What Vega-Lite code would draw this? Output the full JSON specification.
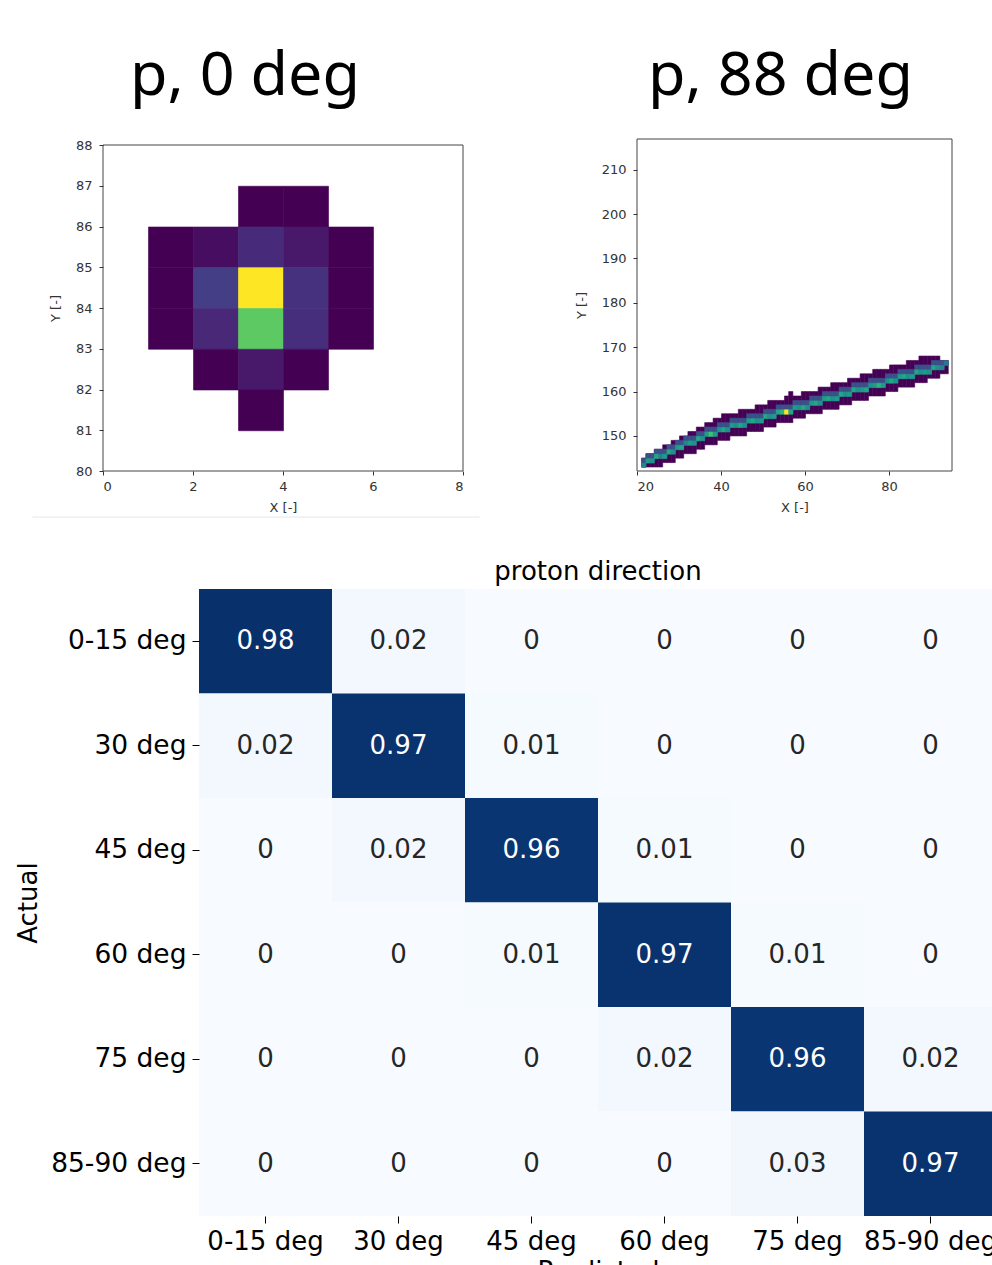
{
  "$schema": "https://vega.github.io/schema/vega-lite/v6.json",
  "background": "white",
  "padding": {"left": 15, "top": 45, "right": 0, "bottom": 0},
  "config": {
    "view": {"stroke": null},
    "font": "DejaVu Sans",
    "axis": {"grid": false, "domain": false, "labelFont": "DejaVu Sans", "titleFont": "DejaVu Sans", "titleFontWeight": "normal"}
  },
  "datasets": {
    "cells": [
      {"x":3,"y":86,"v":0},{"x":4,"y":86,"v":0},
      {"x":1,"y":85,"v":0},{"x":2,"y":85,"v":0.03},{"x":3,"y":85,"v":0.12},{"x":4,"y":85,"v":0.06},{"x":5,"y":85,"v":0},
      {"x":1,"y":84,"v":0},{"x":2,"y":84,"v":0.18},{"x":3,"y":84,"v":1.0},{"x":4,"y":84,"v":0.14},{"x":5,"y":84,"v":0},
      {"x":1,"y":83,"v":0},{"x":2,"y":83,"v":0.11},{"x":3,"y":83,"v":0.75},{"x":4,"y":83,"v":0.13},{"x":5,"y":83,"v":0},
      {"x":2,"y":82,"v":0},{"x":3,"y":82,"v":0.06},{"x":4,"y":82,"v":0},
      {"x":3,"y":81,"v":0}
    ],
    "track": [
      {"x":21,"lo":143,"hi":145,"a":143,"b":145,"c":143,"v":0.45},
      {"x":22,"lo":143,"hi":146,"a":143,"b":146,"c":144,"v":0.55},
      {"x":23,"lo":143,"hi":146,"a":143,"b":146,"c":144,"v":0.5},
      {"x":24,"lo":143,"hi":147,"a":144,"b":147,"c":145,"v":0.6},
      {"x":25,"lo":143,"hi":147,"a":144,"b":147,"c":145,"v":0.45},
      {"x":26,"lo":144,"hi":148,"a":144,"b":147,"c":145,"v":0.55},
      {"x":27,"lo":144,"hi":148,"a":145,"b":148,"c":146,"v":0.6},
      {"x":28,"lo":144,"hi":149,"a":145,"b":148,"c":146,"v":0.5},
      {"x":29,"lo":145,"hi":149,"a":146,"b":149,"c":147,"v":0.55},
      {"x":30,"lo":145,"hi":150,"a":146,"b":149,"c":147,"v":0.6},
      {"x":31,"lo":146,"hi":150,"a":147,"b":150,"c":148,"v":0.45},
      {"x":32,"lo":146,"hi":151,"a":147,"b":150,"c":148,"v":0.55},
      {"x":33,"lo":146,"hi":151,"a":147,"b":150,"c":148,"v":0.5},
      {"x":34,"lo":147,"hi":152,"a":148,"b":151,"c":149,"v":0.6},
      {"x":35,"lo":147,"hi":152,"a":148,"b":151,"c":149,"v":0.5},
      {"x":36,"lo":148,"hi":153,"a":149,"b":152,"c":150,"v":0.55},
      {"x":37,"lo":148,"hi":153,"a":149,"b":152,"c":150,"v":0.7},
      {"x":38,"lo":148,"hi":154,"a":149,"b":152,"c":150,"v":0.55},
      {"x":39,"lo":149,"hi":154,"a":150,"b":153,"c":151,"v":0.5},
      {"x":40,"lo":149,"hi":155,"a":150,"b":153,"c":151,"v":0.6},
      {"x":41,"lo":149,"hi":155,"a":150,"b":153,"c":151,"v":0.5},
      {"x":42,"lo":150,"hi":155,"a":151,"b":154,"c":152,"v":0.55},
      {"x":43,"lo":150,"hi":155,"a":151,"b":154,"c":152,"v":0.5},
      {"x":44,"lo":150,"hi":156,"a":151,"b":154,"c":152,"v":0.6},
      {"x":45,"lo":150,"hi":156,"a":151,"b":154,"c":152,"v":0.5},
      {"x":46,"lo":151,"hi":156,"a":152,"b":155,"c":153,"v":0.55},
      {"x":47,"lo":151,"hi":156,"a":152,"b":155,"c":153,"v":0.6},
      {"x":48,"lo":151,"hi":157,"a":152,"b":155,"c":153,"v":0.5},
      {"x":49,"lo":151,"hi":157,"a":152,"b":155,"c":153,"v":0.55},
      {"x":50,"lo":152,"hi":157,"a":153,"b":156,"c":154,"v":0.6},
      {"x":51,"lo":152,"hi":158,"a":153,"b":156,"c":154,"v":0.5},
      {"x":52,"lo":152,"hi":158,"a":153,"b":156,"c":154,"v":0.55},
      {"x":53,"lo":153,"hi":158,"a":154,"b":157,"c":155,"v":0.6},
      {"x":54,"lo":153,"hi":158,"a":154,"b":157,"c":155,"v":0.65},
      {"x":55,"lo":153,"hi":159,"a":154,"b":157,"c":155,"v":1.0},
      {"x":56,"lo":153,"hi":160,"a":154,"b":157,"c":155,"v":0.6},
      {"x":57,"lo":154,"hi":159,"a":155,"b":158,"c":156,"v":0.55},
      {"x":58,"lo":154,"hi":159,"a":155,"b":158,"c":156,"v":0.5},
      {"x":59,"lo":154,"hi":160,"a":155,"b":158,"c":156,"v":0.6},
      {"x":60,"lo":155,"hi":160,"a":155,"b":158,"c":156,"v":0.5},
      {"x":61,"lo":155,"hi":160,"a":156,"b":159,"c":157,"v":0.55},
      {"x":62,"lo":155,"hi":160,"a":156,"b":159,"c":157,"v":0.6},
      {"x":63,"lo":155,"hi":161,"a":156,"b":159,"c":157,"v":0.5},
      {"x":64,"lo":156,"hi":161,"a":157,"b":160,"c":158,"v":0.55},
      {"x":65,"lo":156,"hi":161,"a":157,"b":160,"c":158,"v":0.6},
      {"x":66,"lo":156,"hi":162,"a":157,"b":160,"c":158,"v":0.5},
      {"x":67,"lo":156,"hi":162,"a":157,"b":160,"c":158,"v":0.55},
      {"x":68,"lo":157,"hi":162,"a":158,"b":161,"c":159,"v":0.6},
      {"x":69,"lo":157,"hi":162,"a":158,"b":161,"c":159,"v":0.5},
      {"x":70,"lo":157,"hi":163,"a":158,"b":161,"c":159,"v":0.55},
      {"x":71,"lo":158,"hi":163,"a":159,"b":162,"c":160,"v":0.6},
      {"x":72,"lo":158,"hi":163,"a":159,"b":162,"c":160,"v":0.5},
      {"x":73,"lo":158,"hi":164,"a":159,"b":162,"c":160,"v":0.55},
      {"x":74,"lo":158,"hi":164,"a":159,"b":162,"c":160,"v":0.6},
      {"x":75,"lo":159,"hi":164,"a":160,"b":163,"c":161,"v":0.5},
      {"x":76,"lo":159,"hi":165,"a":160,"b":163,"c":161,"v":0.55},
      {"x":77,"lo":159,"hi":165,"a":160,"b":163,"c":161,"v":0.65},
      {"x":78,"lo":159,"hi":165,"a":160,"b":163,"c":161,"v":0.55},
      {"x":79,"lo":160,"hi":165,"a":161,"b":164,"c":162,"v":0.5},
      {"x":80,"lo":160,"hi":166,"a":161,"b":164,"c":162,"v":0.6},
      {"x":81,"lo":160,"hi":166,"a":161,"b":164,"c":162,"v":0.5},
      {"x":82,"lo":161,"hi":166,"a":162,"b":165,"c":163,"v":0.55},
      {"x":83,"lo":161,"hi":166,"a":162,"b":165,"c":163,"v":0.6},
      {"x":84,"lo":161,"hi":167,"a":162,"b":165,"c":163,"v":0.5},
      {"x":85,"lo":161,"hi":167,"a":162,"b":165,"c":163,"v":0.55},
      {"x":86,"lo":162,"hi":167,"a":163,"b":166,"c":164,"v":0.6},
      {"x":87,"lo":162,"hi":168,"a":163,"b":166,"c":164,"v":0.5},
      {"x":88,"lo":162,"hi":168,"a":163,"b":166,"c":164,"v":0.55},
      {"x":89,"lo":163,"hi":168,"a":163,"b":166,"c":164,"v":0.5},
      {"x":90,"lo":163,"hi":168,"a":164,"b":167,"c":165,"v":0.6},
      {"x":91,"lo":163,"hi":168,"a":164,"b":167,"c":165,"v":0.5},
      {"x":92,"lo":164,"hi":167,"a":164,"b":167,"c":165,"v":0.45},
      {"x":93,"lo":164,"hi":167,"a":165,"b":167,"c":166,"v":0.4}
    ],
    "matrix": [
      {"a":"0-15 deg","p":"0-15 deg","v":0.98},{"a":"0-15 deg","p":"30 deg","v":0.02},{"a":"0-15 deg","p":"45 deg","v":0},{"a":"0-15 deg","p":"60 deg","v":0},{"a":"0-15 deg","p":"75 deg","v":0},{"a":"0-15 deg","p":"85-90 deg","v":0},
      {"a":"30 deg","p":"0-15 deg","v":0.02},{"a":"30 deg","p":"30 deg","v":0.97},{"a":"30 deg","p":"45 deg","v":0.01},{"a":"30 deg","p":"60 deg","v":0},{"a":"30 deg","p":"75 deg","v":0},{"a":"30 deg","p":"85-90 deg","v":0},
      {"a":"45 deg","p":"0-15 deg","v":0},{"a":"45 deg","p":"30 deg","v":0.02},{"a":"45 deg","p":"45 deg","v":0.96},{"a":"45 deg","p":"60 deg","v":0.01},{"a":"45 deg","p":"75 deg","v":0},{"a":"45 deg","p":"85-90 deg","v":0},
      {"a":"60 deg","p":"0-15 deg","v":0},{"a":"60 deg","p":"30 deg","v":0},{"a":"60 deg","p":"45 deg","v":0.01},{"a":"60 deg","p":"60 deg","v":0.97},{"a":"60 deg","p":"75 deg","v":0.01},{"a":"60 deg","p":"85-90 deg","v":0},
      {"a":"75 deg","p":"0-15 deg","v":0},{"a":"75 deg","p":"30 deg","v":0},{"a":"75 deg","p":"45 deg","v":0},{"a":"75 deg","p":"60 deg","v":0.02},{"a":"75 deg","p":"75 deg","v":0.96},{"a":"75 deg","p":"85-90 deg","v":0.02},
      {"a":"85-90 deg","p":"0-15 deg","v":0},{"a":"85-90 deg","p":"30 deg","v":0},{"a":"85-90 deg","p":"45 deg","v":0},{"a":"85-90 deg","p":"60 deg","v":0},{"a":"85-90 deg","p":"75 deg","v":0.03},{"a":"85-90 deg","p":"85-90 deg","v":0.97}
    ]
  },
  "bounds": "flush",
  "spacing": 450,
  "resolve": {"scale": {"color": "independent"}},
  "vconcat": [
    {
      "bounds": "flush",
      "spacing": 174,
      "resolve": {"scale": {"color": "independent"}},
      "hconcat": [
        {
          "width": 360,
          "height": 332,
          "title": {"text": "p, 0 deg", "font": "Noto Sans", "fontSize": 61, "fontWeight": "normal", "color": "black", "anchor": "middle", "dx": -38, "offset": -17, "baseline": "alphabetic"},
          "layer": [
            {
              "data": {"name": "cells"},
              "mark": {"type": "rect", "binSpacing": 0, "strokeWidth": 0.6},
              "encoding": {
                "x": {"field": "x", "type": "quantitative", "bin": {"binned": true, "step": 1},
                      "scale": {"domain": [0, 8], "nice": false},
                      "axis": {"values": [0, 2, 4, 6, 8], "title": "X [-]", "labelFontSize": 13, "titleFontSize": 13, "labelColor": "#333", "titleColor": "#333", "tickColor": "#333", "tickSize": 4, "labelPadding": 5, "titlePadding": 8, "format": "d"}},
                "y": {"field": "y", "type": "quantitative", "bin": {"binned": true, "step": 1},
                      "scale": {"domain": [80, 88], "range": [332, 6], "nice": false},
                      "axis": {"values": [80, 81, 82, 83, 84, 85, 86, 87, 88], "title": "Y [-]", "labelFontSize": 13, "titleFontSize": 13, "labelColor": "#333", "titleColor": "#333", "tickColor": "#333", "tickSize": 4, "labelPadding": 7, "titlePadding": 13, "format": "d"}},
                "color": {"field": "v", "type": "quantitative", "scale": {"scheme": "viridis", "domain": [0, 1]}, "legend": null},
                "stroke": {"field": "v", "type": "quantitative", "scale": {"scheme": "viridis", "domain": [0, 1]}, "legend": null}
              }
            },
            {
              "data": {"values": [{}]},
              "mark": {"type": "rect", "fill": null, "stroke": "#444", "strokeWidth": 1},
              "encoding": {"x": {"datum": 0}, "x2": {"datum": 8}, "y": {"datum": 80}, "y2": {"datum": 88}}
            },
            {
              "data": {"values": [{}]},
              "mark": {"type": "rule", "stroke": "#e6e6e6", "strokeWidth": 1, "clip": false},
              "encoding": {"x": {"datum": -1.57}, "x2": {"datum": 8.37}, "y": {"datum": 78.87}}
            }
          ]
        },
        {
          "width": 315,
          "height": 332,
          "title": {"text": "p, 88 deg", "font": "Noto Sans", "fontSize": 61, "fontWeight": "normal", "color": "black", "anchor": "middle", "dx": -14, "offset": -17, "baseline": "alphabetic"},
          "data": {"name": "track"},
          "layer": [
            {
              "mark": {"type": "rect", "binSpacing": 0, "strokeWidth": 0.6},
              "encoding": {
                "x": {"field": "x", "type": "quantitative", "bin": {"binned": true, "step": 1},
                      "scale": {"domain": [20, 95], "nice": false},
                      "axis": {"values": [20, 40, 60, 80], "title": "X [-]", "labelFontSize": 13, "titleFontSize": 13, "labelColor": "#333", "titleColor": "#333", "tickColor": "#333", "tickSize": 4, "labelPadding": 5, "titlePadding": 8, "format": "d"}},
                "y": {"field": "lo", "type": "quantitative",
                      "scale": {"domain": [142.1, 216.9], "nice": false, "zero": false},
                      "axis": {"values": [150, 160, 170, 180, 190, 200, 210], "title": "Y [-]", "labelFontSize": 13, "titleFontSize": 13, "labelColor": "#333", "titleColor": "#333", "tickColor": "#333", "tickSize": 4, "labelPadding": 7, "titlePadding": 13, "format": "d"}},
                "y2": {"field": "hi"},
                "color": {"datum": 0, "type": "quantitative", "scale": {"scheme": "viridis", "domain": [0, 1]}, "legend": null},
                "stroke": {"datum": 0, "type": "quantitative", "scale": {"scheme": "viridis", "domain": [0, 1]}, "legend": null}
              }
            },
            {
              "mark": {"type": "rect", "binSpacing": 0, "strokeWidth": 0.6},
              "encoding": {
                "x": {"field": "x", "type": "quantitative", "bin": {"binned": true, "step": 1}},
                "y": {"field": "c", "type": "quantitative"},
                "y2": {"field": "b"},
                "color": {"datum": 0.24, "type": "quantitative"},
                "stroke": {"datum": 0.24, "type": "quantitative"}
              }
            },
            {
              "mark": {"type": "rect", "binSpacing": 0, "strokeWidth": 0.6},
              "encoding": {
                "x": {"field": "x", "type": "quantitative", "bin": {"binned": true, "step": 1}},
                "y": {"field": "c", "type": "quantitative", "bin": {"binned": true, "step": 1}},
                "color": {"field": "v", "type": "quantitative"},
                "stroke": {"field": "v", "type": "quantitative"}
              }
            },
            {
              "data": {"values": [{}]},
              "mark": {"type": "rect", "fill": null, "stroke": "#444", "strokeWidth": 1},
              "encoding": {"x": {"datum": 20}, "x2": {"datum": 95}, "y": {"datum": 142.1}, "y2": {"datum": 216.9}}
            }
          ]
        }
      ]
    },
    {
      "bounds": "flush",
      "spacing": 0,
      "resolve": {"scale": {"color": "independent"}},
      "hconcat": [
        {"width": 96, "height": 10, "data": {"values": []}, "mark": "point", "encoding": {}},
        {
          "width": 798,
          "height": 627,
          "title": {"text": "proton direction", "font": "DejaVu Sans", "fontSize": 26, "fontWeight": "normal", "color": "black", "anchor": "middle", "offset": 4},
          "data": {"name": "matrix"},
          "encoding": {
            "x": {"field": "p", "type": "ordinal", "sort": ["0-15 deg", "30 deg", "45 deg", "60 deg", "75 deg", "85-90 deg"],
                  "scale": {"paddingInner": 0, "paddingOuter": 0},
                  "axis": {"orient": "bottom", "labelAngle": 0, "title": "Predicted", "labelFontSize": 26, "titleFontSize": 26, "labelColor": "black", "titleColor": "black", "tickColor": "black", "tickSize": 7, "labelPadding": 5, "titlePadding": 4}},
            "y": {"field": "a", "type": "ordinal", "sort": ["0-15 deg", "30 deg", "45 deg", "60 deg", "75 deg", "85-90 deg"],
                  "scale": {"paddingInner": 0, "paddingOuter": 0},
                  "axis": {"title": "Actual", "labelFontSize": 26.5, "titleFontSize": 26, "labelColor": "black", "titleColor": "black", "tickColor": "black", "tickSize": 7, "labelPadding": 6, "titlePadding": 9}}
          },
          "layer": [
            {
              "mark": {"type": "rect"},
              "encoding": {
                "color": {"field": "v", "type": "quantitative", "legend": null,
                          "scale": {"domain": [0, 0.98], "range": ["#f7fbff", "#deebf7", "#c6dbef", "#9ecae1", "#6baed6", "#4292c6", "#2171b5", "#08519c", "#08306b"]}}
              }
            },
            {
              "mark": {"type": "text", "font": "DejaVu Sans", "fontSize": 26},
              "encoding": {
                "text": {"field": "v", "type": "quantitative", "format": "~g"},
                "color": {"condition": {"test": "datum.v > 0.5", "value": "white"}, "value": "#262626"}
              }
            }
          ]
        }
      ]
    }
  ]
}
